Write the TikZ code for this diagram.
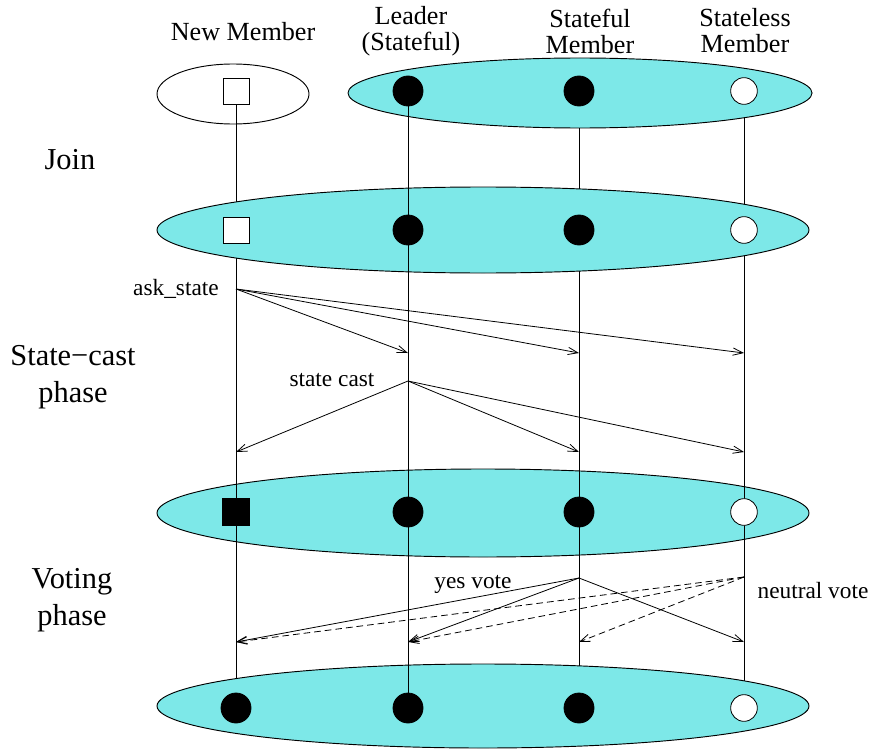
\documentclass[tikz,border=0pt]{standalone}
\usepackage{fontspec}
\setmainfont{Liberation Serif}
\usetikzlibrary{arrows.meta}
\definecolor{grpfill}{RGB}{125,232,232}
\tikzset{
  grp/.style={draw=black,line width=0.7pt,fill=grpfill},
  newgrp/.style={draw=black,line width=0.7pt,fill=white},
  blackdot/.style={circle,fill=black,draw=black,line width=0.6pt,minimum size=22.5pt,inner sep=0pt},
  whitedot/.style={circle,fill=white,draw=black,line width=0.6pt,minimum size=20pt,inner sep=0pt},
  whitesq/.style={rectangle,fill=white,draw=black,line width=0.6pt,minimum size=19.5pt,inner sep=0pt},
  blacksq/.style={rectangle,fill=black,draw=black,line width=0.6pt,minimum size=20pt,inner sep=0pt},
  life/.style={draw=black,line width=0.6pt},
  msg/.style={draw=black,line width=0.6pt,-{Straight Barb[length=7.5pt,width=5.5pt,line width=0.6pt]}},
  vote/.style={msg,dashed,dash pattern=on 5pt off 3pt},
  head/.style={font=\fontsize{19.6}{19.5}\selectfont,align=center,inner sep=0pt},
  phase/.style={font=\fontsize{22.8}{27.5}\selectfont,align=center,inner sep=0pt},
  small/.style={font=\fontsize{17.5}{21}\selectfont,inner sep=0pt}
}
\begin{document}
\begin{tikzpicture}[x=0.75pt,y=-0.75pt]
\useasboundingbox (0,0) rectangle (871,749);
% marker positions
\foreach \c/\x in {N/236,L/408,S/579,X/744}{
  \coordinate (c\c1) at (\x,91);
  \coordinate (c\c2) at (\x,230);
  \coordinate (c\c3) at (\x,512);
  \coordinate (c\c4) at (\x,708);
}
% new member group and third group (lifelines visible over them)
\draw[newgrp] (233,94) ellipse [x radius=76, y radius=30];
\draw[grp] (483,513) ellipse [x radius=326, y radius=44];
% lifelines that are hidden by the other groups
\draw[life] (cN1) -- (cN4);
\draw[life] (cS1) -- (cS4);
\draw[life] (cX1) -- (cX4);
% other groups
\draw[grp] (580,93) ellipse [x radius=232, y radius=35];
\draw[grp] (483,230) ellipse [x radius=326, y radius=43];
\draw[grp] (483,706) ellipse [x radius=326, y radius=42];
% leader lifeline on top
\draw[life] (cL1) -- (cL4);
% headers
\node[head] (hN) at (243,32) {New Member};
\node[head] (hL) at (411,31) {Leader\\(Stateful)};
\node[head] (hS) at (590,31) {Stateful\\Member};
\node[head] (hX) at (745,31) {Stateless\\Member};
% phase labels
\node[phase] (pJ) at (70,160) {Join};
\node[phase] (pS) at (73,377) {State−cast\\phase};
\node[phase] (pV) at (72,600) {Voting\\phase};
% markers
\node[whitesq] (N1) at (cN1) {};
\node[blackdot] (L1) at (cL1) {};
\node[blackdot] (S1) at (cS1) {};
\node[whitedot] (X1) at (cX1) {};
\node[whitesq] (N2) at (cN2) {};
\node[blackdot] (L2) at (cL2) {};
\node[blackdot] (S2) at (cS2) {};
\node[whitedot] (X2) at (cX2) {};
\node[blacksq] (N3) at (cN3) {};
\node[blackdot] (L3) at (cL3) {};
\node[blackdot] (S3) at (cS3) {};
\node[whitedot] (X3) at (cX3) {};
\node[blackdot] (N4) at (cN4) {};
\node[blackdot] (L4) at (cL4) {};
\node[blackdot] (S4) at (cS4) {};
\node[whitedot] (X4) at (cX4) {};
% ask_state
\coordinate (askO) at (236,289);
\coordinate (askL) at (408,353);
\coordinate (askS) at (579,353);
\coordinate (askX) at (744,353);
\node[small,anchor=east] (lask) at (219,289) {ask\_state};
\draw[msg] (askO) -- (askL);
\draw[msg] (askO) -- (askS);
\draw[msg] (askO) -- (askX);
% state cast
\coordinate (scO) at (408,381);
\coordinate (scN) at (236,452);
\coordinate (scS) at (579,452);
\coordinate (scX) at (744,452);
\node[small] (lsc) at (332,380) {state cast};
\draw[msg] (scO) -- (scN);
\draw[msg] (scO) -- (scS);
\draw[msg] (scO) -- (scX);
% voting
\coordinate (yO) at (579,578);
\coordinate (nO) at (744,577);
\coordinate (vN) at (236,642);
\coordinate (vL) at (408,642);
\coordinate (vS) at (579,642);
\coordinate (vX) at (744,642);
\node[small] (lyes) at (473,584) {yes vote};
\node[small] (lneu) at (813,591) {neutral vote};
\draw[msg] (yO) -- (vN);
\draw[msg] (yO) -- (vL);
\draw[msg] (yO) -- (vX);
\draw[vote] (nO) -- (vN);
\draw[vote] (nO) -- (vL);
\draw[vote] (nO) -- (vS);
\end{tikzpicture}
\end{document}
